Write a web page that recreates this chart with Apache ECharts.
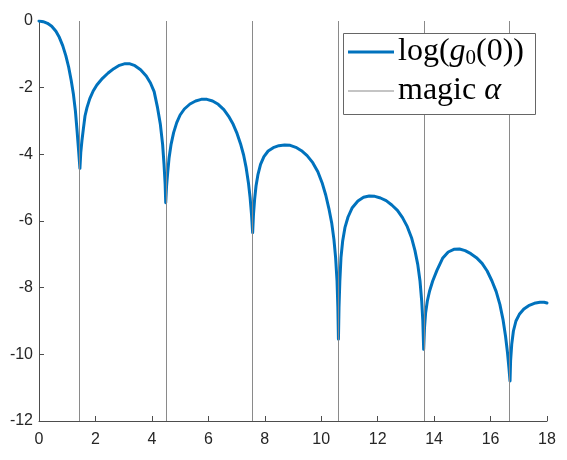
<!DOCTYPE html>
<html>
<head>
<meta charset="utf-8">
<script src="https://cdn.jsdelivr.net/npm/echarts@6/dist/echarts.min.js"></script>
<style>html,body{margin:0;padding:0;background:#fff}#c{width:567px;height:460px}</style>
</head>
<body>
<div id="c"></div>
<script>
// x values (alpha) of the curve
const curveX = [
  0, 0.15, 0.3, 0.45, 0.6, 0.72, 0.84, 0.95, 1.05, 1.14, 1.22, 1.29, 1.35, 1.40, 1.45,
  1.48, 1.52, 1.57, 1.63, 1.70, 1.80, 1.92, 2.05, 2.25, 2.45, 2.65, 2.85, 3.05, 3.2, 3.4, 3.6, 3.8, 3.95, 4.08, 4.2, 4.3, 4.38, 4.43, 4.47, 4.49,
  4.52, 4.56, 4.61, 4.68, 4.77, 4.88, 5.0, 5.15, 5.35, 5.55, 5.75, 5.95, 6.15, 6.35, 6.55, 6.72, 6.88, 7.02, 7.14, 7.25, 7.34, 7.42, 7.48, 7.53, 7.57,
  7.60, 7.64, 7.69, 7.76, 7.85, 7.97, 8.12, 8.3, 8.5, 8.7, 8.9, 9.1, 9.3, 9.5, 9.7, 9.88, 10.03, 10.16, 10.27, 10.37, 10.45, 10.51, 10.56, 10.59, 10.61,
  10.63, 10.66, 10.70, 10.76, 10.84, 10.95, 11.1, 11.3, 11.5, 11.7, 11.9, 12.1, 12.3, 12.5, 12.7, 12.88, 13.05, 13.2, 13.32, 13.42, 13.5, 13.56, 13.6, 13.63,
  13.66, 13.70, 13.76, 13.84, 13.95, 14.1, 14.3, 14.5, 14.7, 14.9, 15.1, 15.3, 15.5, 15.7, 15.88, 16.05, 16.2, 16.33, 16.44, 16.53, 16.6, 16.65, 16.69,
  16.71, 16.75, 16.81, 16.9, 17.02, 17.18, 17.35, 17.55, 17.75, 17.9, 18.0];
// log(g0(0)) values
const curveY = [
  0, -0.02, -0.07, -0.16, -0.31, -0.49, -0.74, -1.04, -1.38, -1.78, -2.2, -2.7, -3.3, -3.85, -4.42,
  -3.95, -3.6, -3.25, -2.85, -2.6, -2.33, -2.1, -1.92, -1.72, -1.56, -1.43, -1.33, -1.28, -1.28, -1.34, -1.46, -1.65, -1.86, -2.12, -2.6, -3.1, -3.7, -4.3, -4.9, -5.45,
  -4.95, -4.55, -4.1, -3.7, -3.35, -3.05, -2.82, -2.64, -2.49, -2.4, -2.35, -2.35, -2.4, -2.5, -2.66, -2.86, -3.1, -3.38, -3.68, -4.02, -4.4, -4.85, -5.3, -5.8, -6.35,
  -5.8, -5.35, -4.95, -4.6, -4.3, -4.07, -3.9, -3.8, -3.74, -3.72, -3.73, -3.79, -3.89, -4.04, -4.25, -4.52, -4.85, -5.22, -5.62, -6.05, -6.55, -7.1, -7.8, -8.6, -9.55,
  -8.6, -7.8, -7.1, -6.6, -6.2, -5.88, -5.6, -5.4, -5.29, -5.25, -5.26, -5.31, -5.39, -5.52, -5.68, -5.9, -6.17, -6.5, -6.88, -7.3, -7.8, -8.4, -9.0, -9.85,
  -9.2, -8.75, -8.4, -8.1, -7.8, -7.48, -7.12, -6.93, -6.85, -6.84, -6.89, -6.98, -7.1, -7.27, -7.5, -7.8, -8.12, -8.5, -8.95, -9.45, -9.95, -10.4, -10.8,
  -10.2, -9.7, -9.3, -9.0, -8.8, -8.64, -8.54, -8.47, -8.44, -8.44, -8.46];
// magic alpha positions
const magicAlpha = [1.44, 4.51, 7.56, 10.61, 13.64, 16.68];
const xTicks = [0, 18, 2];   // min, max, interval
const yTicks = [-12, 0, 2];
const seriesNames = ['log(g0(0))', 'magic α'];

const chart = echarts.init(document.getElementById('c'), null, {renderer: 'canvas'});
const axisCol = '#4d4d4d';
const labelCol = '#262626';
const labelFont = '"Liberation Sans", Arial, sans-serif';
const serif = '"Liberation Serif", "DejaVu Serif", serif';
const blue = '#0072BD';
const gray = '#8a8a8a';
const rich = {
  n: {fontFamily: serif, fontSize: 32, lineHeight: 34, color: '#000'},
  i: {fontFamily: serif, fontSize: 32, lineHeight: 34, fontStyle: 'italic', color: '#000'},
  s: {fontFamily: serif, fontSize: 21, lineHeight: 16, verticalAlign: 'bottom', color: '#000'}
};
function legendFmt(name) {
  if (name === seriesNames[0]) return '{n|log(}{i|g}{s|0}{n|(0))}';
  return '{n|magic }{i|α}';
}
chart.setOption({
  animation: false,
  backgroundColor: '#fff',
  grid: {left: 39, right: 20, top: 21, bottom: 39, containLabel: false},
  xAxis: {
    type: 'value', min: xTicks[0], max: xTicks[1], interval: xTicks[2],
    axisLine: {show: true, onZero: false, lineStyle: {color: axisCol, width: 1}},
    axisTick: {show: true, inside: true, length: 5, lineStyle: {color: axisCol}},
    axisLabel: {color: labelCol, fontSize: 16, fontFamily: labelFont, margin: 11},
    splitLine: {show: false}
  },
  yAxis: {
    type: 'value', min: yTicks[0], max: yTicks[1], interval: yTicks[2],
    axisLine: {show: true, onZero: false, lineStyle: {color: axisCol, width: 1}},
    axisTick: {show: true, inside: true, length: 5, lineStyle: {color: axisCol}},
    axisLabel: {color: labelCol, fontSize: 16, fontFamily: labelFont, margin: 6},
    splitLine: {show: false}
  },
  graphic: [{
    type: 'rect', left: 343, top: 33, z: 100, zlevel: 0,
    shape: {width: 192, height: 81},
    style: {fill: '#fff', stroke: '#666', lineWidth: 1}
  }],
  legend: [
    {
      orient: 'vertical', left: 348, top: 36, padding: 0, z: 200,
      itemWidth: 46, itemHeight: 3, itemGap: 5, icon: 'rect',
      data: [seriesNames[0]], formatter: legendFmt,
      textStyle: {padding: [0, 0, 0, -1], rich: rich}
    },
    {
      orient: 'vertical', left: 348, top: 75, padding: 0, z: 200,
      itemWidth: 46, itemHeight: 1, itemGap: 5, icon: 'rect',
      data: [seriesNames[1]], formatter: legendFmt,
      textStyle: {padding: [0, 0, 0, -1], rich: rich}
    }
  ],
  series: [
    {
      name: seriesNames[0], type: 'line', symbol: 'none', smooth: false,
      color: blue,
      lineStyle: {color: blue, width: 3, join: 'round', cap: 'round'},
      data: curveX.map((x, i) => [x, curveY[i]]),
      z: 3
    },
    {
      name: seriesNames[1], type: 'line', symbol: 'none', data: [],
      color: gray,
      lineStyle: {color: gray, width: 1},
      markLine: {
        silent: true, symbol: ['none', 'none'], label: {show: false},
        lineStyle: {color: gray, width: 1, type: 'solid'},
        data: magicAlpha.map(a => ({xAxis: a}))
      },
      z: 2
    }
  ]
});
</script>
</body>
</html>
